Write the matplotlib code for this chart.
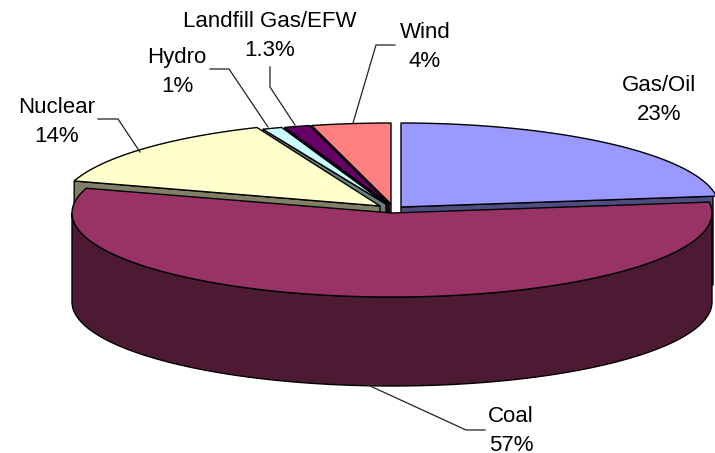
import numpy as np
import matplotlib
matplotlib.use("Agg")
import matplotlib.pyplot as plt
from matplotlib.patches import Polygon

# Generation mix, in pie order (clockwise from twelve o'clock)
sources = ["Gas/Oil", "Coal", "Nuclear", "Hydro", "Landfill Gas/EFW", "Wind"]
shares = [23, 57, 14, 1, 1.3, 4]
share_labels = ["23%", "57%", "14%", "1%", "1.3%", "4%"]

top_colors = ["#9999ff", "#993366", "#ffffcc", "#ccffff", "#660066", "#ff8080"]
wall_colors = ["#4d4d80", "#4d1a33", "#808066", "#668080", "#330033", "#804040"]

# Apex of each exploded slice and the ellipse radii, in pixels
centers = [(401, 207), (392, 213), (380, 206), (386, 204), (389, 204), (391, 204)]
radii = [(318, 84), (320, 84), (320, 85), (320, 81), (320, 81), (320, 81)]
DEPTH = 89
WALL_RIGHT = 713

# label centre x and baseline of the first line
label_pos = [(659, 91), (511, 422), (57, 113), (177, 63), (270, 27), (425, 38)]
LINE_GAP = 29
leaders = [
    None,
    [(368, 385), (466, 430), (485, 430)],
    [(98, 119), (118, 119), (140, 152)],
    [(210, 69), (229, 69), (268, 127)],
    [(270, 67), (270, 87), (295, 125)],
    [(395, 45), (376, 45), (353, 123)],
]


def rim(t0, t1, cx, cy, rx, ry, n=120):
    t = np.radians(np.linspace(t0, t1, n))
    return np.column_stack([cx + rx * np.sin(t), cy - ry * np.cos(t)])


def draw_slice(ax, t0, t1, center, rad, top, wall):
    cx, cy = center
    rx, ry = rad
    apex = np.array([cx, cy])
    down = np.array([0, DEPTH])

    # cut faces, only the ones turned towards the viewer
    visible = []
    if t0 >= 180:
        visible.append(t0)
    if t1 <= 90:
        visible.append(t1)
    for t in visible:
        edge = rim(t, t, cx, cy, rx, ry, 1)[0]
        face = np.array([apex, edge, edge + down, apex + down])
        face[:, 0] = np.minimum(face[:, 0], WALL_RIGHT)
        ax.add_patch(Polygon(face, facecolor=wall, edgecolor="black", lw=1))

    # outer wall only where the rim faces the front
    a, b = max(t0, 90), min(t1, 270)
    if a < b:
        arc = rim(a, b, cx, cy, rx, ry)
        outer = np.vstack([arc, arc[::-1] + down])
        ax.add_patch(Polygon(outer, facecolor=wall, edgecolor="black", lw=1))

    arc = rim(t0, t1, cx, cy, rx, ry)
    ax.add_patch(Polygon(np.vstack([apex, arc]), facecolor=top, edgecolor="black", lw=1))


fig = plt.figure(figsize=(7.15, 4.53), dpi=100)
ax = fig.add_axes([0, 0, 1, 1])
ax.set_xlim(0, 715)
ax.set_ylim(453, 0)
ax.axis("off")

ends = np.cumsum(shares) / np.sum(shares) * 360
starts = np.concatenate([[0], ends[:-1]])

# back slices first, coal sits in front of everything
for i in [5, 4, 3, 0, 2, 1]:
    draw_slice(ax, starts[i], ends[i], centers[i], radii[i], top_colors[i], wall_colors[i])

for pts in leaders:
    if pts is not None:
        xs, ys = zip(*pts)
        ax.plot(xs, ys, color="#222222", lw=0.9, solid_joinstyle="miter")

# name and share as two separate lines of text
for name, share, (x, y) in zip(sources, share_labels, label_pos):
    ax.text(x, y, name, ha="center", va="baseline", fontsize=16,
            family="Liberation Sans", color="black")
    ax.text(x, y + LINE_GAP, share, ha="center", va="baseline", fontsize=16,
            family="Liberation Sans", color="black")

fig.savefig("out.png", dpi=100)
